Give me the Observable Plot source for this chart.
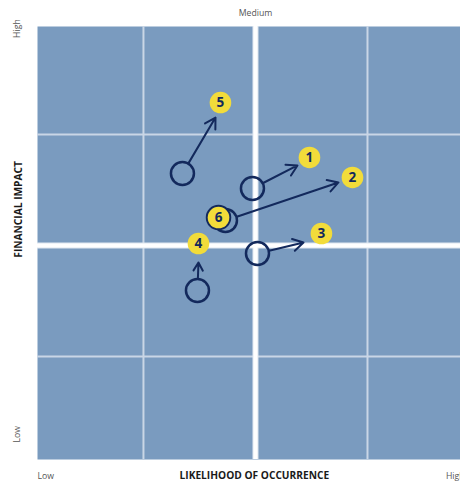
<!DOCTYPE html>
<html>
<head>
<meta charset="utf-8">
<script src="https://cdn.jsdelivr.net/npm/d3@7"></script>
<script src="https://cdn.jsdelivr.net/npm/@observablehq/plot@0.6"></script>
<style>
html, body { margin: 0; padding: 0; background: #fff; overflow: hidden; width: 460px; height: 485px; }
#chart svg { display: block; max-width: none !important; }
</style>
</head>
<body>
<div id="chart"></div>
<script>
// Risk identifiers
const risks = ["1", "2", "3", "4", "5", "6"];
// Current position (hollow circles), in grid units (0..4)
const fromX = [1.973, 1.732, 2.018, 1.482, 1.348, 1.670];
const fromY = [2.514, 2.225, 1.928, 1.595, 2.649, 2.252];
// Target position (yellow numbered markers)
const toX = [2.482, 2.866, 2.589, 1.491, 1.6875, 1.670];
const toY = [2.793, 2.613, 2.108, 2.018, 3.288, 2.252];
// Arrow tip positions (null = no movement)
const tipX = [2.375, 2.741, 2.429, 1.491, 1.643, null];
const tipY = [2.721, 2.568, 2.027, 1.847, 3.153, null];
// Grid lines
const minorLines = [1, 3];
const majorLines = [2];
// Axis labels
const axisTitleX = "LIKELIHOOD OF OCCURRENCE";
const axisTitleY = "FINANCIAL IMPACT";
const xTickLow = "Low", xTickMid = "Medium", xTickHigh = "High";
const yTickLow = "Low", yTickHigh = "High";

const rows = risks.map((id, i) => ({
  id, fx: fromX[i], fy: fromY[i], tx: toX[i], ty: toY[i], ax: tipX[i], ay: tipY[i]
}));
const arrows = rows.filter(d => d.ax != null);

const navy = "#13295c";
const yellow = "#f2dc3a";
const font = "'Open Sans', sans-serif";

const chart = Plot.plot({
  width: 479,
  height: 485,
  marginLeft: 37,
  marginRight: 0,
  marginTop: 26,
  marginBottom: 26,
  style: { fontFamily: font, background: "transparent", overflow: "visible", maxWidth: "none" },
  x: { domain: [0.054, 4], axis: null },
  y: { domain: [0.072, 3.973], axis: null },
  marks: [
    Plot.frame({ fill: "#7a9bbf", stroke: null }),
    Plot.ruleX(minorLines, { stroke: "#c9d6e6", strokeWidth: 2 }),
    Plot.ruleY(minorLines, { stroke: "#c9d6e6", strokeWidth: 2 }),
    Plot.ruleX(majorLines, { stroke: "#dfe7f0", strokeWidth: 6 }),
    Plot.ruleY(majorLines, { stroke: "#dfe7f0", strokeWidth: 6 }),
    Plot.ruleX(majorLines, { stroke: "#ffffff", strokeWidth: 4 }),
    Plot.ruleY(majorLines, { stroke: "#ffffff", strokeWidth: 4 }),
    // hollow circles (current positions)
    Plot.dot(rows, { x: "fx", y: "fy", r: 11.5, stroke: navy, strokeWidth: 2.5, fill: "none" }),
    // movement arrows
    Plot.arrow(arrows, {
      x1: "fx", y1: "fy", x2: "ax", y2: "ay",
      insetStart: 12, stroke: navy, strokeWidth: 2, headLength: 9, bend: 0
    }),
    // numbered markers
    Plot.dot(rows, { x: "tx", y: "ty", r: 10.8, fill: yellow, stroke: "none" }),
    Plot.text(rows, { x: "tx", y: "ty", text: "id", fill: navy, fontSize: 13.5, fontWeight: "bold", dy: 0.5 }),
    // axis tick labels
    Plot.text([xTickMid], { x: [2], frameAnchor: "top", dy: -17, fill: "#555", fontSize: 8.7 }),
    Plot.text([xTickLow], { x: [0.054], frameAnchor: "bottom", dy: 19, textAnchor: "start", fill: "#555", fontSize: 8.7 }),
    Plot.text([xTickHigh], { x: [3.70], frameAnchor: "bottom", dy: 19, textAnchor: "start", fill: "#555", fontSize: 8.7 }),
    Plot.text([axisTitleX], { x: [1.99], frameAnchor: "bottom", dy: 19, fill: "#1a1a1a", fontSize: 10.2, fontWeight: "bold" }),
    Plot.text([yTickHigh], { y: [3.87], frameAnchor: "left", dx: -20.5, rotate: -90, fill: "#555", fontSize: 8.7 }),
    Plot.text([yTickLow], { y: [0.225], frameAnchor: "left", dx: -20.5, rotate: -90, fill: "#555", fontSize: 8.7 }),
    Plot.text([axisTitleY], { y: [1.89], frameAnchor: "left", dx: -19, rotate: -90, fill: "#1a1a1a", fontSize: 10.2, fontWeight: "bold" })
  ]
});
document.getElementById("chart").appendChild(chart);
</script>
</body>
</html>
